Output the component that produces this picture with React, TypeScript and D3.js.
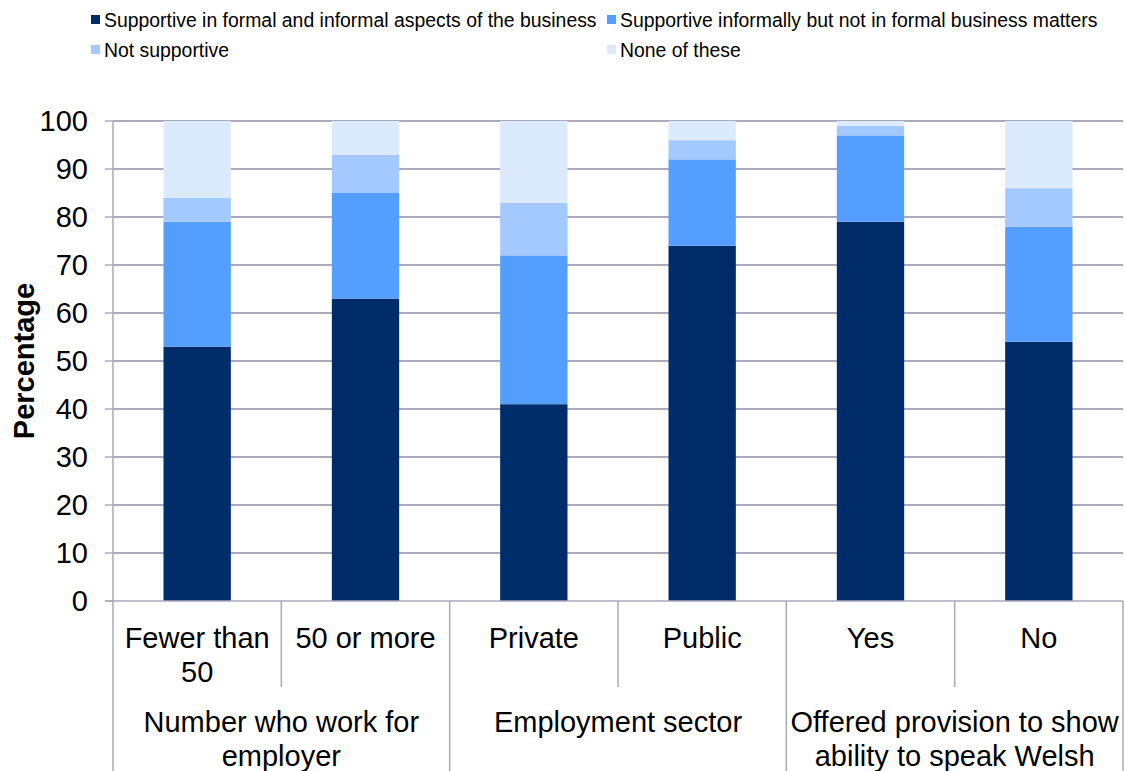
import React from "react";
import * as d3 from "d3";

const categories = ["Fewer than 50", "50 or more", "Private", "Public", "Yes", "No"];
const categoryLines = [["Fewer than", "50"], ["50 or more"], ["Private"], ["Public"], ["Yes"], ["No"]];
const groups = [
  { lines: ["Number who work for", "employer"], span: 2 },
  { lines: ["Employment sector"], span: 2 },
  { lines: ["Offered provision to show", "ability to speak Welsh"], span: 2 },
];
const seriesNames = [
  "Supportive in formal and informal aspects of the business",
  "Supportive informally but not in formal business matters",
  "Not supportive",
  "None of these",
];
const formalInformal = [53, 63, 41, 74, 79, 54];
const informalOnly = [26, 22, 31, 18, 18, 24];
const notSupportive = [5, 8, 11, 4, 2, 8];
const noneOfThese = [16, 7, 17, 4, 1, 14];
const yTicks = [0, 10, 20, 30, 40, 50, 60, 70, 80, 90, 100];
const colors = ["#002C69", "#539EFF", "#A4C9FF", "#DCEAFD"];

const W = 1125;
const H = 771;
const left = 113;
const right = 1123;
const top = 121;
const bottom = 601;
const font = "'Liberation Sans', Arial, sans-serif";

export default function App() {
  const x = d3.scaleBand<string>().domain(categories).range([left, right]).padding(0);
  const y = d3.scaleLinear().domain([0, 100]).range([bottom, top]);
  const table = categories.map((c, i) => ({
    cat: c,
    s0: formalInformal[i],
    s1: informalOnly[i],
    s2: notSupportive[i],
    s3: noneOfThese[i],
  }));
  const stacked = d3.stack<any>().keys(["s0", "s1", "s2", "s3"])(table);
  const bw = x.bandwidth() * 0.4;
  const gridColor = "#8E8EA6";
  const axisColor = "#A9A9BC";

  let groupStart = 0;
  const groupBounds = groups.map((g) => {
    const s = groupStart;
    groupStart += g.span;
    return { ...g, x0: x(categories[s])!, x1: x(categories[s + g.span - 1])! + x.bandwidth() };
  });

  return (
    <svg width={W} height={H} style={{ position: "absolute", left: 0, top: 0, background: "#fff" }} fontFamily={font}>
      {/* legend */}
      {seriesNames.map((n, i) => {
        const col = i % 2;
        const row = Math.floor(i / 2);
        const lx = col === 0 ? 91 : 607;
        const ly = row === 0 ? 20 : 50;
        return (
          <g key={n}>
            <rect x={lx} y={ly - 5} width={9} height={9} fill={colors[i]} />
            <text x={lx + 13} y={ly} dy="0.35em" fontSize={19.4} fill="#000">{n}</text>
          </g>
        );
      })}
      {/* gridlines */}
      {yTicks.map((t) => (
        <g key={t}>
          {t > 0 && <line x1={left} x2={right} y1={y(t)} y2={y(t)} stroke={gridColor} strokeWidth={1.5} />}
          <line x1={left - 8} x2={left} y1={y(t)} y2={y(t)} stroke={axisColor} strokeWidth={1.5} />
          <text x={88} y={y(t)} dy="0.36em" textAnchor="end" fontSize={29} fill="#000">{t}</text>
        </g>
      ))}
      {/* bars */}
      {stacked.map((s, si) => (
        <g key={si} fill={colors[si]}>
          {s.map((d, i) => (
            <rect
              key={i}
              x={x(categories[i])! + (x.bandwidth() - bw) / 2}
              y={y(d[1])}
              width={bw}
              height={y(d[0]) - y(d[1])}
            />
          ))}
        </g>
      ))}
      {/* axes */}
      <line x1={left} x2={left} y1={top} y2={H} stroke={axisColor} strokeWidth={1.5} />
      <line x1={left - 8} x2={right} y1={bottom} y2={bottom} stroke={axisColor} strokeWidth={1.5} />
      {categories.map((c, i) => {
        const cx = x(c)! + x.bandwidth() / 2;
        return (
          <g key={c}>
            {i % 2 === 1 && (
              <line x1={x(c)!} x2={x(c)!} y1={bottom} y2={687} stroke={axisColor} strokeWidth={1.5} />
            )}
            {categoryLines[i].map((l, li) => (
              <text key={li} x={cx} y={638 + li * 34} dy="0.36em" textAnchor="middle" fontSize={29} fill="#000">{l}</text>
            ))}
          </g>
        );
      })}
      {groupBounds.map((g, gi) => (
        <g key={gi}>
          <line x1={g.x1} x2={g.x1} y1={bottom} y2={H} stroke={axisColor} strokeWidth={1.5} />
          {g.lines.map((l, li) => (
            <text key={li} x={(g.x0 + g.x1) / 2} y={722 + li * 34} dy="0.36em" textAnchor="middle" fontSize={29} fill="#000">{l}</text>
          ))}
        </g>
      ))}
      <text transform={`translate(24,${(top + bottom) / 2}) rotate(-90)`} textAnchor="middle" dy="0.36em" fontSize={29} fontWeight="bold" fill="#000">Percentage</text>
    </svg>
  );
}
